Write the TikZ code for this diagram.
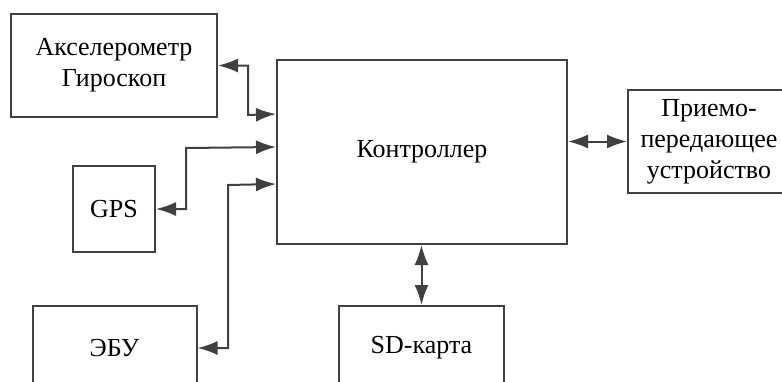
\documentclass[tikz,border=0pt]{standalone}
\usepackage{fontspec}
\setmainfont{Liberation Serif}
\usetikzlibrary{arrows.meta,calc}
\definecolor{lc}{HTML}{404040}
\begin{document}
\begin{tikzpicture}[x=1pt,y=-1pt,
  blk/.style={draw=lc,line width=2pt,inner sep=0pt,align=center,
    font=\fontsize{26}{31}\selectfont},
  arr/.style={draw=lc,line width=2pt,{Latex[length=20pt,width=14pt]}-{Latex[length=20pt,width=14pt]}}]
\useasboundingbox (0,0) rectangle (782,381);
\clip (0,0) rectangle (782,381);
\fill[white] (0,0) rectangle (782,381);
\node[blk,minimum width=206pt,minimum height=103pt] (acc) at (114,65.5) {Акселерометр\\Гироскоп};
\node[blk,minimum width=290pt,minimum height=184pt] (ctrl) at (422,152) {Контроллер};
\node[blk,minimum width=82pt,minimum height=86pt] (gps) at (114,209) {GPS};
\node[blk,minimum width=164pt,minimum height=84pt] (ebu) at (114.5,348) {ЭБУ};
\node[blk,minimum width=165pt,minimum height=84pt] (sd) at (421.5,348) {SD-карта};
\node[blk,minimum width=162pt,minimum height=103pt] (rx) at (709,141.5) {Приемо-\\передающее\\устройство};
\draw[arr] (acc.east) -| (248,115) -- ($(ctrl.north west)+(0,55)$);
\draw[arr] (gps.east) -| (186,148) -- ($(ctrl.north west)+(0,88)$);
\draw[arr] (ebu.east) -| (228,185) -- ($(ctrl.north west)+(0,125)$);
\draw[arr] (sd.north) -- (sd.north |- ctrl.south);
\draw[arr] (rx.west) -- (rx.west -| ctrl.east);
\end{tikzpicture}
\end{document}
